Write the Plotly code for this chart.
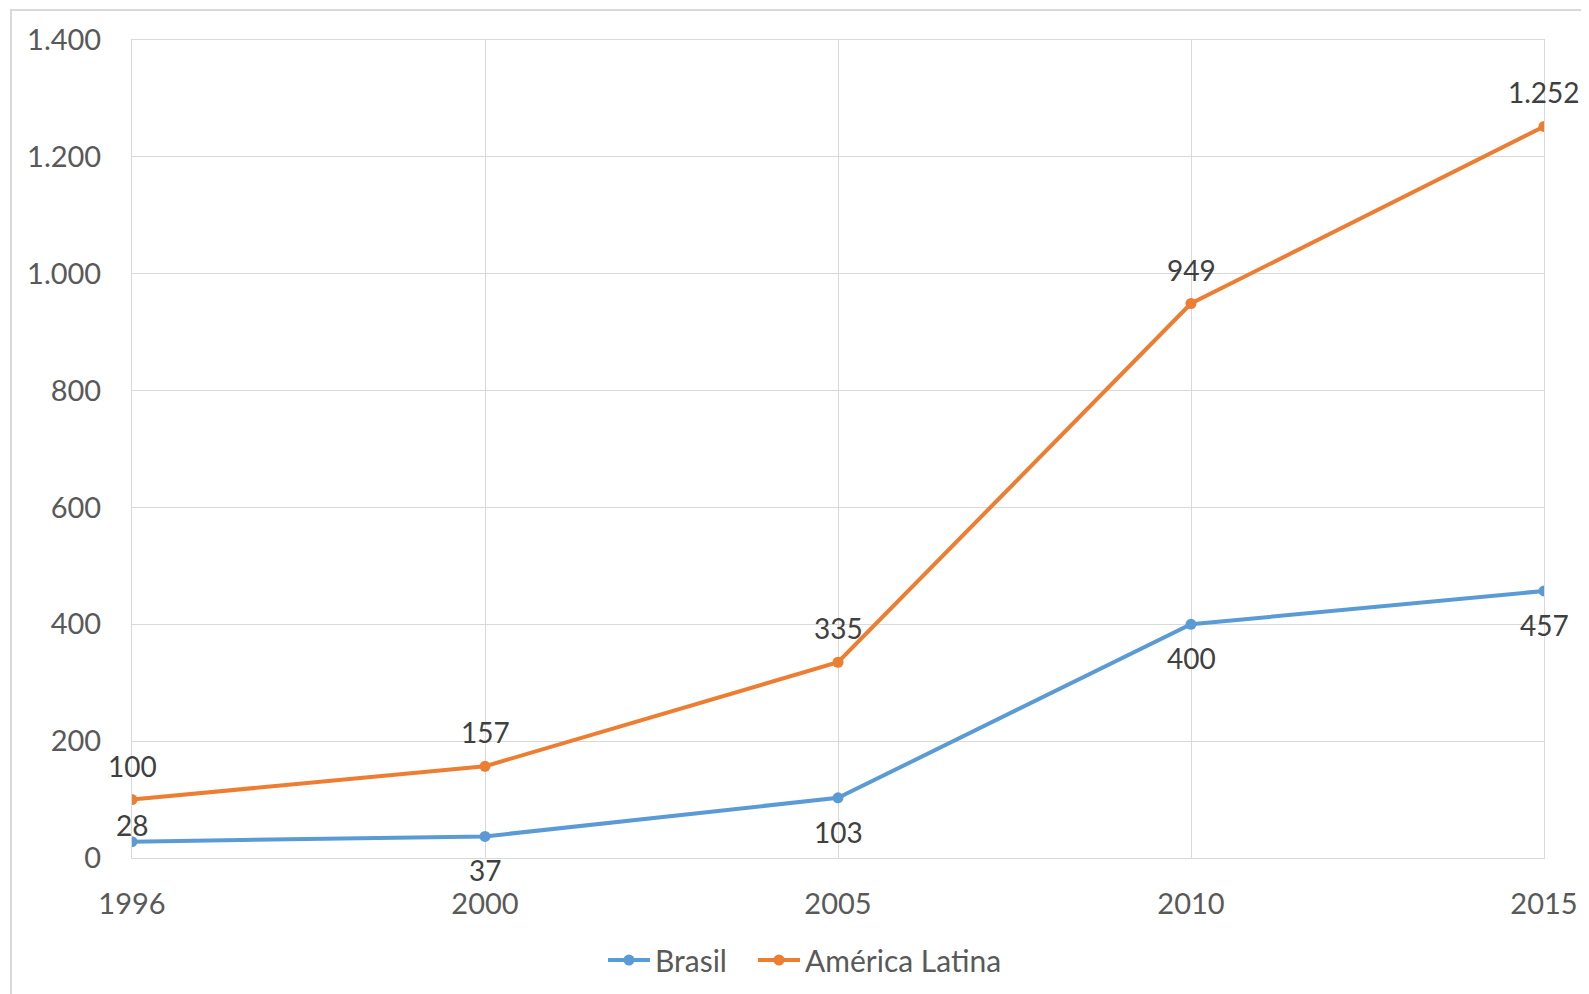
import plotly.graph_objects as go

years = ["1996", "2000", "2005", "2010", "2015"]
brasil = [28, 37, 103, 400, 457]
america_latina = [100, 157, 335, 949, 1252]
brasil_labels = ["28", "37", "103", "400", "457"]
al_labels = ["100", "157", "335", "949", "1.252"]
y_ticks = [0, 200, 400, 600, 800, 1000, 1200, 1400]
y_tick_labels = ["0", "200", "400", "600", "800", "1.000", "1.200", "1.400"]

BLUE = "#5B9BD5"
ORANGE = "#ED7D31"
FONT = "Lato"
GRID = "#D9D9D9"
FS = 29

fig = go.Figure()
fig.add_trace(go.Scatter(x=years, y=brasil, name="Brasil", mode="lines+markers",
                         line=dict(color=BLUE, width=4), marker=dict(size=11, color=BLUE),
                         legend="legend"))
fig.add_trace(go.Scatter(x=years, y=america_latina, name="América Latina", mode="lines+markers",
                         line=dict(color=ORANGE, width=4), marker=dict(size=11, color=ORANGE),
                         legend="legend2"))

annotations = []
for i, (v, t) in enumerate(zip(brasil, brasil_labels)):
    shift = 17 if i == 0 else -34
    annotations.append(dict(x=i, y=v, text=t, showarrow=False, yshift=shift,
                            xref="x", yref="y",
                            font=dict(family=FONT, size=28, color="#404040")))
for i, (v, t) in enumerate(zip(america_latina, al_labels)):
    annotations.append(dict(x=i, y=v, text=t, showarrow=False, yshift=34,
                            xref="x", yref="y",
                            font=dict(family=FONT, size=28, color="#404040")))

OFF = 8  # page body margin
W, H = 1589 - OFF, 994 - OFF
L, R, T, B = 132 - OFF, 1544 - OFF, 40 - OFF, 858 - OFF
pw, ph = R - L, B - T

def px(x):
    return (x - OFF - L) / pw

def py(y):
    return (B - (y - OFF)) / ph

leg_common = dict(orientation="h", xanchor="left", yanchor="middle", y=py(960),
                  font=dict(family=FONT, size=30, color="#595959"),
                  itemwidth=42, bgcolor="rgba(0,0,0,0)")

fig.update_layout(
    width=W, height=H,
    margin=dict(l=L, r=W - R, t=T, b=H - B, autoexpand=False),
    paper_bgcolor="white", plot_bgcolor="white",
    font=dict(family=FONT, size=FS, color="#595959"),
    showlegend=True,
    legend=dict(x=px(603), **leg_common),
    legend2=dict(x=px(753), **leg_common),
    annotations=annotations,
    shapes=[dict(type="rect", xref="paper", yref="paper",
                 x0=px(11), x1=px(1620), y0=py(1020), y1=py(10),
                 line=dict(color=GRID, width=2), fillcolor="rgba(0,0,0,0)", layer="below")],
)
fig.update_xaxes(type="category", range=[0, 4], showgrid=True, gridcolor=GRID, gridwidth=1,
                 showline=True, linecolor=GRID, linewidth=1, mirror=True,
                 ticks="", ticklabelstandoff=20,
                 tickfont=dict(family=FONT, size=FS, color="#595959"))
fig.update_yaxes(range=[0, 1400], tickvals=y_ticks, ticktext=y_tick_labels,
                 showgrid=True, gridcolor=GRID, gridwidth=1, zeroline=False,
                 showline=True, linecolor=GRID, linewidth=1, mirror=True,
                 ticks="", ticklabelstandoff=24,
                 tickfont=dict(family=FONT, size=FS, color="#595959"))

fig.write_html("out.html")
